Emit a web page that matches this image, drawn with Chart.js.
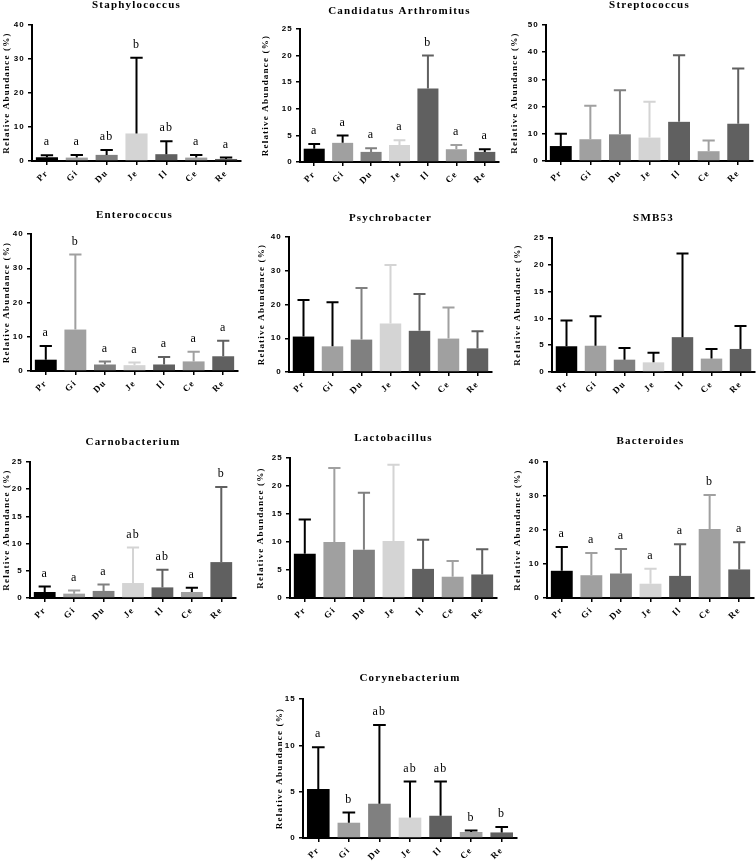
<!DOCTYPE html>
<html lang="en">
<head>
<meta charset="UTF-8">
<title>Relative abundance by gut segment</title>
<script src="https://cdn.jsdelivr.net/npm/chart.js"></script>
<style>
  html, body { margin: 0; padding: 0; background: #fff; }
  #page { position: relative; width: 756px; height: 861px; overflow: hidden; }
  #page canvas { position: absolute; }
</style>
</head>
<body>
<div id="page"></div>
<script>
// gut segments (x axis)
const groups = ['Pr', 'Gi', 'Du', 'Je', 'Il', 'Ce', 'Re'];

// mean and SD (upper error bar) per genus
const staphMean = [1.1, 1.0, 1.8, 8.1, 2.0, 1.0, 0.6];
const staphSd   = [0.6, 0.8, 1.4, 22.3, 3.8, 0.8, 0.4];
const staphSig  = ['a', 'a', 'ab', 'b', 'ab', 'a', 'a'];

const candMean = [2.5, 3.6, 1.9, 3.2, 13.8, 2.4, 1.9];
const candSd   = [0.9, 1.4, 0.7, 0.9, 6.2, 0.8, 0.5];
const candSig  = ['a', 'a', 'a', 'a', 'b', 'a', 'a'];

const strepMean = [5.5, 8.0, 9.8, 8.6, 14.4, 3.6, 13.7];
const strepSd   = [4.5, 12.3, 16.2, 13.2, 24.5, 3.9, 20.3];

const enteroMean = [3.3, 12.1, 1.9, 1.7, 1.9, 2.8, 4.3];
const enteroSd   = [4.0, 21.9, 0.9, 0.8, 2.2, 2.8, 4.5];
const enteroSig  = ['a', 'b', 'a', 'a', 'a', 'a', 'a'];

const psychMean = [10.5, 7.6, 9.6, 14.4, 12.2, 9.9, 7.0];
const psychSd   = [10.8, 13.1, 15.3, 17.3, 10.9, 9.2, 5.1];

const smbMean = [4.8, 4.9, 2.3, 1.8, 6.5, 2.5, 4.3];
const smbSd   = [4.8, 5.5, 2.2, 1.8, 15.6, 1.8, 4.3];

const carnoMean = [1.1, 0.8, 1.3, 2.75, 1.95, 1.1, 6.6];
const carnoSd   = [1.0, 0.6, 1.2, 6.55, 3.25, 0.8, 13.8];
const carnoSig  = ['a', 'a', 'a', 'ab', 'ab', 'a', 'b'];

const lactoMean = [7.9, 10.0, 8.6, 10.2, 5.2, 3.8, 4.2];
const lactoSd   = [6.1, 13.2, 10.2, 13.6, 5.2, 2.8, 4.5];

const bactMean = [8.0, 6.7, 7.2, 4.2, 6.5, 20.3, 8.4];
const bactSd   = [7.0, 6.5, 7.2, 4.4, 9.3, 10.0, 8.0];
const bactSig  = ['a', 'a', 'a', 'a', 'a', 'b', 'a'];

const coryMean = [5.3, 1.65, 3.7, 2.2, 2.4, 0.65, 0.6];
const corySd   = [4.5, 1.1, 8.5, 3.9, 3.7, 0.15, 0.6];
const corySig  = ['a', 'b', 'ab', 'ab', 'ab', 'b', 'b'];

// bar fills per segment
const barColors = ['#000000', '#a0a0a0', '#808080', '#d4d4d4', '#606060', '#a0a0a0', '#606060'];

// errK = which error bars are drawn black instead of bar colour
// box: tx = y title x, ax = y axis x, top/zero = y of max tick and 0, right = plot end, ty = title y
const panels = [
  { name: 'Staphylococcus', mean: staphMean, sd: staphSd, sig: staphSig, max: 40, step: 10, errK: [1,1,1,1,1,1,1],
    box: { tx: 6, ax: 32, top: 25, zero: 161, right: 241, ty: 5 } },
  { name: 'Candidatus Arthromitus', mean: candMean, sd: candSd, sig: candSig, max: 25, step: 5, errK: [1,1,0,0,0,0,1],
    box: { tx: 265, ax: 300, top: 29, zero: 162, right: 499, ty: 11 } },
  { name: 'Streptococcus', mean: strepMean, sd: strepSd, sig: null, max: 50, step: 10, errK: [1,0,0,0,0,0,0],
    box: { tx: 514, ax: 546, top: 25, zero: 161, right: 753, ty: 5 } },
  { name: 'Enterococcus', mean: enteroMean, sd: enteroSd, sig: enteroSig, max: 40, step: 10, errK: [1,0,0,0,0,0,0],
    box: { tx: 6, ax: 31, top: 234, zero: 371, right: 238, ty: 215 } },
  { name: 'Psychrobacter', mean: psychMean, sd: psychSd, sig: null, max: 40, step: 10, errK: [1,1,0,0,0,0,0],
    box: { tx: 261, ax: 289, top: 237, zero: 372, right: 492, ty: 218 } },
  { name: 'SMB53', mean: smbMean, sd: smbSd, sig: null, max: 25, step: 5, errK: [1,1,1,1,1,1,1],
    box: { tx: 517, ax: 552, top: 238, zero: 372, right: 755, ty: 218 } },
  { name: 'Carnobacterium', mean: carnoMean, sd: carnoSd, sig: carnoSig, max: 25, step: 5, errK: [1,0,0,0,0,1,0],
    box: { tx: 6, ax: 30, top: 462, zero: 598, right: 236, ty: 442 } },
  { name: 'Lactobacillus', mean: lactoMean, sd: lactoSd, sig: null, max: 25, step: 5, errK: [1,0,0,0,0,0,0],
    box: { tx: 260, ax: 290, top: 458, zero: 598, right: 497, ty: 438 } },
  { name: 'Bacteroides', mean: bactMean, sd: bactSd, sig: bactSig, max: 40, step: 10, errK: [1,0,0,0,0,0,0],
    box: { tx: 517, ax: 547, top: 462, zero: 598, right: 754, ty: 441 } },
  { name: 'Corynebacterium', mean: coryMean, sd: corySd, sig: corySig, max: 15, step: 5, errK: [1,1,1,1,1,1,1],
    box: { tx: 279, ax: 303, top: 699, zero: 838, right: 517, ty: 678 } }
];

// spaced-out lettering + error bars and significance letters
const extras = {
  id: 'extras',
  beforeLayout(chart) { chart.ctx.letterSpacing = '1.2px'; },
  beforeDraw(chart) { chart.ctx.letterSpacing = '1.2px'; },
  afterDatasetsDraw(chart, args, opts) {
    const ctx = chart.ctx;
    const yScale = chart.scales.y;
    const vals = chart.data.datasets[0].data;
    ctx.save();
    chart.getDatasetMeta(0).data.forEach((bar, i) => {
      const top = yScale.getPixelForValue(vals[i] + opts.sd[i]);
      const half = bar.width * 0.28;
      ctx.strokeStyle = opts.errK[i] ? '#000' : barColors[i];
      ctx.lineWidth = 2;
      ctx.beginPath();
      ctx.moveTo(bar.x, bar.y);
      ctx.lineTo(bar.x, top);
      ctx.moveTo(bar.x - half, top);
      ctx.lineTo(bar.x + half, top);
      ctx.stroke();
      if (opts.sig) {
        ctx.fillStyle = '#000';
        ctx.font = '12px "Liberation Serif"';
        ctx.textAlign = 'center';
        ctx.textBaseline = 'middle';
        ctx.fillText(opts.sig[i], bar.x, top - 13);
      }
    });
    ctx.restore();
  }
};

const page = document.getElementById('page');

panels.forEach(p => {
  const b = p.box;
  const left = Math.round(b.tx - 5);
  const top = b.ty - 7;
  const w = b.right - left + 3;
  const h = b.zero - top + 36;
  const yWidth = b.ax - left;
  const titleBottom = (b.top - top) - 13.2 - 0.4;

  const cv = document.createElement('canvas');
  cv.width = w; cv.height = h;
  cv.style.left = left + 'px';
  cv.style.top = top + 'px';
  cv.style.width = w + 'px';
  cv.style.height = h + 'px';
  page.appendChild(cv);

  new Chart(cv.getContext('2d'), {
    type: 'bar',
    data: {
      labels: groups,
      datasets: [{
        data: p.mean,
        backgroundColor: barColors,
        borderWidth: 0,
        barPercentage: 0.74,
        categoryPercentage: 1
      }]
    },
    options: {
      responsive: false,
      animation: false,
      layout: { padding: { top: 0, left: 0, bottom: 0, right: 3 } },
      plugins: {
        legend: { display: false },
        tooltip: { enabled: false },
        title: {
          display: true,
          text: p.name,
          fullSize: false,
          color: '#000',
          font: { family: 'Liberation Serif', size: 11, weight: 'bold' },
          padding: { top: 0.4, bottom: titleBottom }
        },
        extras: { sd: p.sd, sig: p.sig, errK: p.errK }
      },
      scales: {
        x: {
          afterFit: s => { s.height = 36; },
          grid: { offset: false, drawOnChartArea: false, drawTicks: true, tickLength: 4, color: '#000', lineWidth: 1.5 },
          border: { color: '#000', width: 2 },
          ticks: {
            minRotation: 45, maxRotation: 45, padding: 3, color: '#000',
            font: { family: 'Liberation Serif', size: 9, weight: 'bold' }
          }
        },
        y: {
          min: 0, max: p.max,
          afterFit: s => { s.width = yWidth; },
          grid: { drawOnChartArea: false, drawTicks: true, tickLength: 4, color: '#000', lineWidth: 1.5 },
          border: { color: '#000', width: 2 },
          ticks: {
            stepSize: p.step, padding: 3, color: '#000',
            font: { family: 'Liberation Sans', size: 8, weight: 'bold' }
          },
          title: {
            display: true,
            text: 'Relative Abundance (%)',
            color: '#000',
            padding: 0,
            font: { family: 'Liberation Serif', size: 9, weight: 'bold' }
          }
        }
      }
    },
    plugins: [extras]
  });
});
</script>
</body>
</html>
